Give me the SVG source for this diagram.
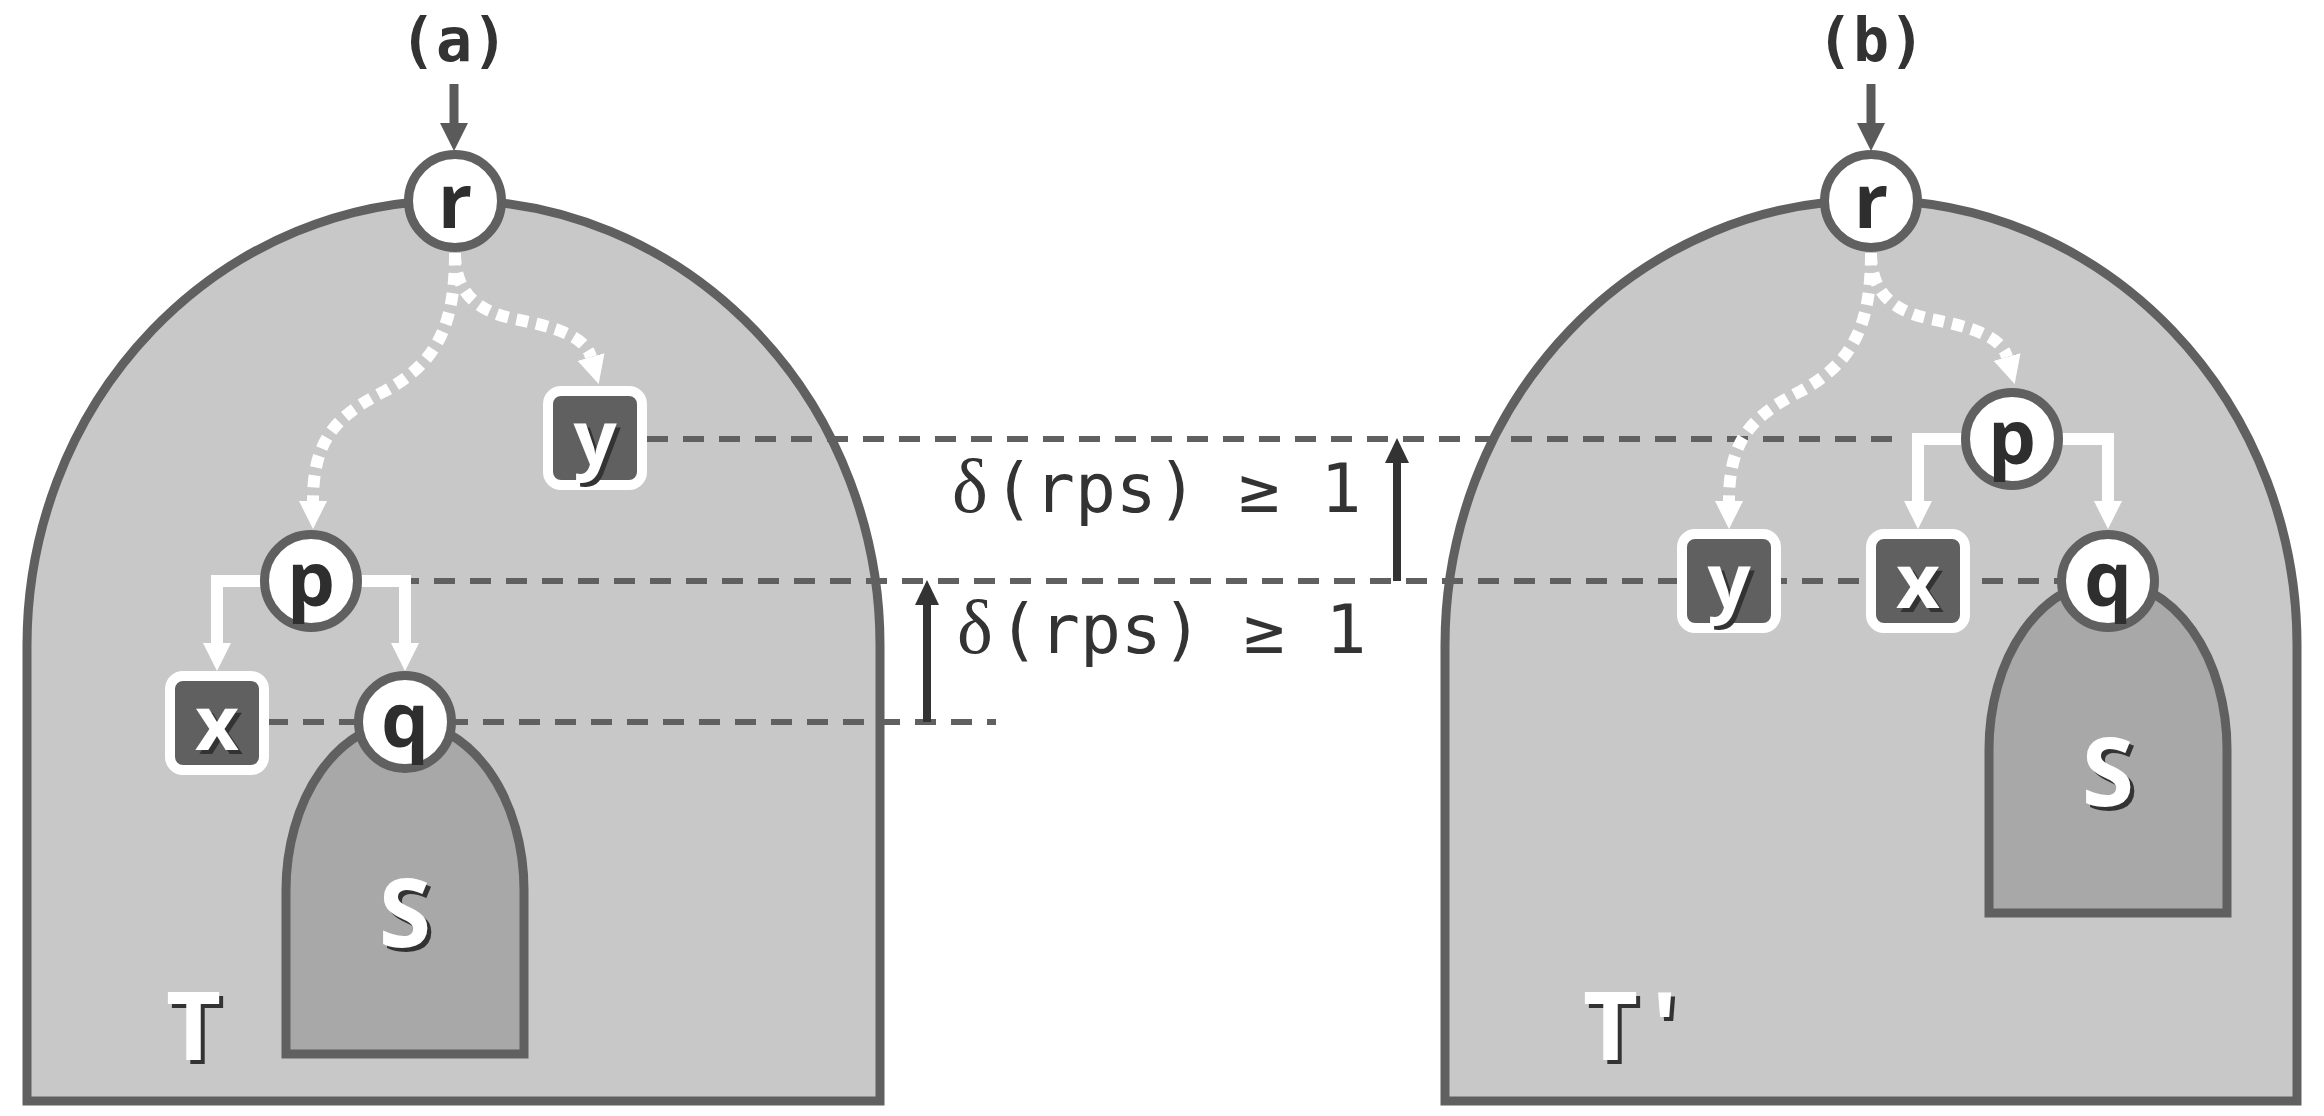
<svg xmlns="http://www.w3.org/2000/svg" width="2324" height="1116" viewBox="0 0 2324 1116">
<defs>
<style>
.arch{fill:#c8c8c8;stroke:#606060;stroke-width:9}
.sub{fill:#a8a8a8;stroke:#606060;stroke-width:9}
.dash{fill:none;stroke:#606060;stroke-width:6;stroke-dasharray:21 15}
.dot{fill:none;stroke:#ffffff;stroke-width:12;stroke-dasharray:12 8;marker-end:url(#wa)}
.tree{fill:none;stroke:#ffffff;stroke-width:12;marker-end:url(#wa)}
.circ{fill:#ffffff;stroke:#606060;stroke-width:9}
.box{fill:#606060;stroke:#ffffff;stroke-width:10}
.lbl{font-family:"Open Sans",sans-serif;font-weight:700;font-size:76px;text-anchor:middle}
.dk{fill:#2e2e2e}
.wt{fill:#ffffff}
.sh{fill:#333333}
.big{font-family:"Open Sans",sans-serif;font-weight:700;font-size:95px}
.cap{font-family:"DejaVu Sans Mono",monospace;font-weight:bold;font-size:60px;fill:#333333;text-anchor:middle}
.mono{font-family:"DejaVu Sans Mono",monospace;font-size:68px;fill:#333333}
.dl{font-family:"Liberation Serif",serif;font-size:76px;fill:#333333}
</style>
<marker id="wa" markerUnits="userSpaceOnUse" viewBox="0 0 28 28" markerWidth="28" markerHeight="28" refX="0" refY="14" orient="auto">
<path d="M0,0 L28,14 L0,28 Z" fill="#ffffff"/>
</marker>
<marker id="ga" markerUnits="userSpaceOnUse" viewBox="0 0 28 28" markerWidth="28" markerHeight="28" refX="0" refY="14" orient="auto">
<path d="M0,0 L28,14 L0,28 Z" fill="#5a5a5a"/>
</marker>
<marker id="ba" markerUnits="userSpaceOnUse" viewBox="0 0 25 24" markerWidth="25" markerHeight="24" refX="0" refY="12" orient="auto">
<path d="M0,0 L25,12 L0,24 Z" fill="#333333"/>
</marker>
</defs>

<g id="tree-T">
<path class="arch" d="M27,1101 V645 A426.5,445 0 0 1 880,645 V1101 Z"/>
</g>
<g id="tree-T-prime">
<path class="arch" d="M1445,1101 V645 A426,445 0 0 1 2297,645 V1101 Z"/>
</g>
<g id="subtree-S-a">
<path class="sub" d="M286,1054 V890 A119,168 0 0 1 524,890 V1054 Z"/>
</g>
<g id="subtree-S-b">
<path class="sub" d="M1989,913 V749 A119,168 0 0 1 2227,749 V913 Z"/>
</g>

<g id="connectors">
<path class="dash" d="M647,439 H1903"/>
<path class="dash" d="M362,581 H2060"/>
<path class="dash" d="M267,722 H996"/>
<path d="M454,84 V123" stroke="#5a5a5a" stroke-width="9" fill="none" marker-end="url(#ga)"/>
<path d="M1871,84 V123" stroke="#5a5a5a" stroke-width="9" fill="none" marker-end="url(#ga)"/>
<path d="M927,722 V605" stroke="#333333" stroke-width="8" fill="none" marker-end="url(#ba)"/>
<path d="M1397,581 V463" stroke="#333333" stroke-width="8" fill="none" marker-end="url(#ba)"/>
<path class="dot" d="M455,253 C455,321 440,361 385,391 C335,416 313,441 313,501"/>
<path class="dot" d="M455,253 C455,291 475,311 515,319 C555,327 585,336 591,357"/>
<path class="dot" d="M1871,253 C1871,321 1856,361 1801,391 C1751,416 1729,441 1729,501"/>
<path class="dot" d="M1871,253 C1871,291 1891,311 1931,319 C1971,327 2001,336 2007,357"/>
<path class="tree" d="M262,581 H217 V643"/>
<path class="tree" d="M360,581 H405 V643"/>
<path class="tree" d="M1963,439 H1918 V501"/>
<path class="tree" d="M2061,439 H2108 V501"/>
</g>

<g id="node-r-a"><circle class="circ" cx="455" cy="201" r="46.5"/><text class="lbl dk" x="455" y="228">r</text></g>
<g id="node-y-a"><rect class="box" x="548" y="391" width="94" height="94" rx="13"/><text class="lbl sh" x="599" y="469">y</text><text class="lbl wt" x="595" y="465">y</text></g>
<g id="node-p-a"><circle class="circ" cx="311" cy="581" r="46.5"/><text class="lbl dk" x="311" y="606">p</text></g>
<g id="node-x-a"><rect class="box" x="170" y="676" width="94" height="94" rx="13"/><text class="lbl sh" x="221" y="754">x</text><text class="lbl wt" x="217" y="750">x</text></g>
<g id="node-q-a"><circle class="circ" cx="405" cy="722" r="46.5"/><text class="lbl dk" x="405" y="747">q</text></g>

<g id="node-r-b"><circle class="circ" cx="1871" cy="201" r="46.5"/><text class="lbl dk" x="1871" y="228">r</text></g>
<g id="node-p-b"><circle class="circ" cx="2012" cy="439" r="46.5"/><text class="lbl dk" x="2012" y="464">p</text></g>
<g id="node-y-b"><rect class="box" x="1682" y="534" width="94" height="94" rx="13"/><text class="lbl sh" x="1733" y="612">y</text><text class="lbl wt" x="1729" y="608">y</text></g>
<g id="node-x-b"><rect class="box" x="1871" y="534" width="94" height="94" rx="13"/><text class="lbl sh" x="1922" y="612">x</text><text class="lbl wt" x="1918" y="608">x</text></g>
<g id="node-q-b"><circle class="circ" cx="2108" cy="581" r="46.5"/><text class="lbl dk" x="2108" y="606">q</text></g>

<g id="labels">
<text class="cap" x="454" y="61">(a)</text>
<text class="cap" x="1871" y="61">(b)</text>
<text class="dl" x="952" y="512">δ</text>
<text class="mono" x="993" y="512">(rps) ≥ 1</text>
<text class="dl" x="957" y="653">δ</text>
<text class="mono" x="998" y="653">(rps) ≥ 1</text>
<text class="big sh" x="409" y="951" text-anchor="middle">S</text>
<text class="big wt" x="405" y="947" text-anchor="middle">S</text>
<text class="big sh" x="2112" y="810" text-anchor="middle">S</text>
<text class="big wt" x="2108" y="806" text-anchor="middle">S</text>
<text class="big sh" x="170" y="1064">T</text>
<text class="big wt" x="166" y="1060">T</text>
<text class="big sh" x="1587" y="1064">T</text>
<text class="big wt" x="1583" y="1060">T</text>
<text class="big sh" x="1656" y="1064">'</text>
<text class="big wt" x="1652" y="1060">'</text>
</g>
</svg>
